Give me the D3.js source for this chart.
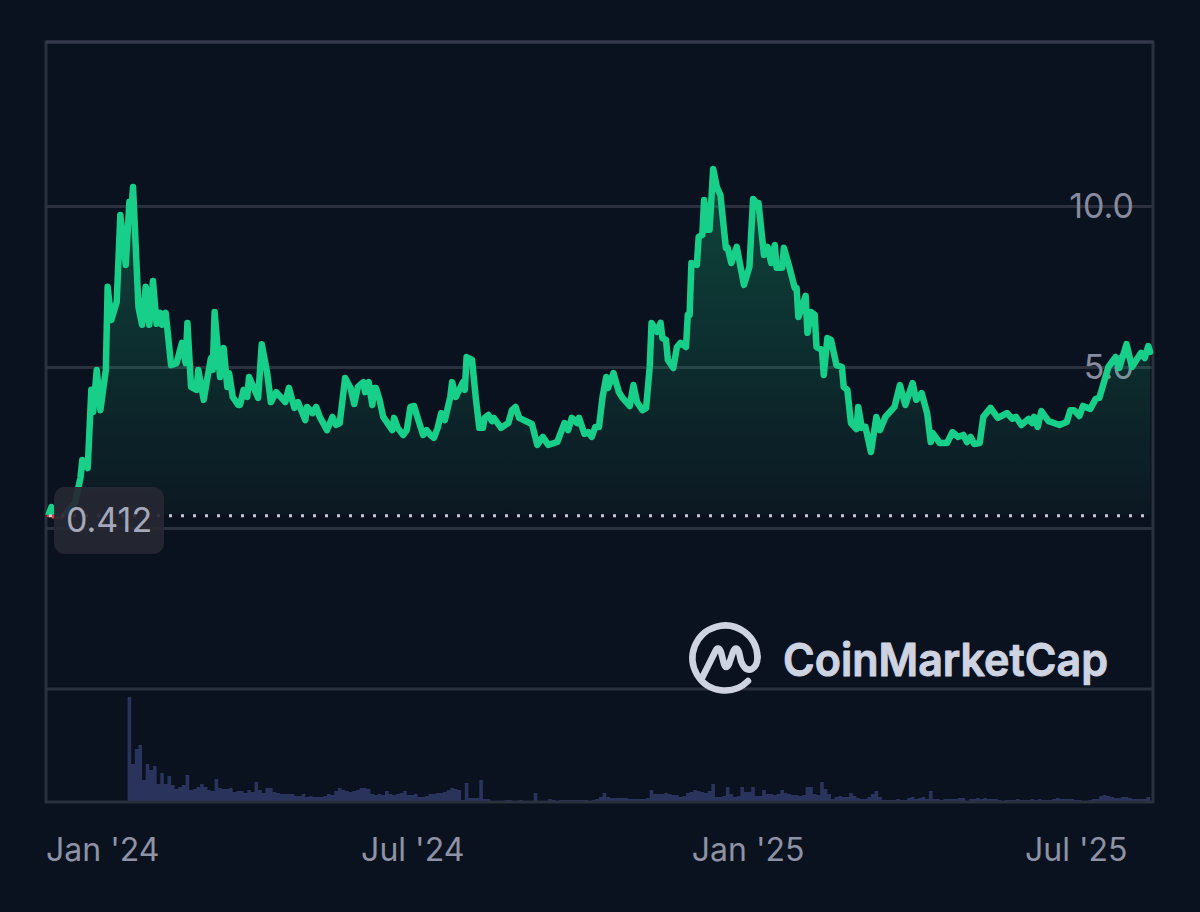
<!DOCTYPE html>
<html>
<head>
<meta charset="utf-8">
<script src="https://cdn.jsdelivr.net/npm/d3@7/dist/d3.min.js"></script>
<style>
  html, body { margin: 0; padding: 0; background: #0b121f; }
  svg { display: block; font-family: Inter, "Noto Sans", sans-serif; }
  .domain { display: none; }
</style>
</head>
<body>
<div id="chart"></div>
<script>
// days since the start of the chart
const days = [1,3,4,9,16,19,20,23,25,26,28,30,33,34,36,39,41,44,46,47,48,51,53,55,57,59,61,63,64,66,67,69,72,75,77,78,80,83,84,87,89,91,92,93,96,98,100,101,103,106,107,109,111,112,117,119,122,124,127,132,134,137,139,143,144,147,149,151,155,158,160,162,165,168,170,172,175,176,178,180,181,182,184,186,191,192,194,197,199,201,203,205,208,210,212,214,216,218,220,223,224,226,230,231,232,235,237,239,241,242,244,246,247,251,255,257,259,261,268,271,274,277,282,286,288,290,293,294,297,299,301,303,305,307,309,310,313,316,318,322,324,326,329,331,333,334,337,339,340,342,343,346,348,350,353,354,355,356,359,360,362,363,365,366,368,370,372,375,376,378,381,385,388,390,392,393,396,398,400,402,403,406,407,410,413,414,415,417,419,420,422,424,425,428,429,431,433,436,439,440,442,444,447,448,450,452,455,458,460,463,468,471,474,478,480,483,486,488,489,493,497,500,503,506,508,510,512,515,517,521,525,530,533,535,538,542,544,545,547,549,553,559,563,565,567,570,572,576,579,581,586,590,592,596,599,604,606,608,609];
const prices = [0.34,0.65,0.34,0.31,0.78,1.55,2.11,1.86,4.29,3.60,4.91,3.66,4.91,7.49,6.46,7.02,9.72,8.17,10.13,9.78,10.59,6.86,6.31,7.49,6.31,7.67,6.34,6.68,6.31,6.68,6.15,5.06,5.12,5.75,5.12,6.37,4.38,4.29,4.91,3.98,4.66,5.28,4.91,6.71,4.69,5.59,4.38,4.81,4.07,3.82,3.82,4.29,4.07,4.69,4.04,5.71,4.81,3.91,4.22,3.91,4.35,3.73,3.91,3.35,3.76,3.57,3.76,3.45,3.04,3.45,3.20,3.26,4.66,4.35,3.85,4.38,4.53,4.22,4.53,3.82,4.35,4.35,3.98,3.45,3.04,3.42,3.11,2.89,3.04,3.76,3.79,3.42,2.89,3.04,2.89,2.80,3.11,3.57,3.35,4.07,4.53,4.07,4.53,4.29,5.31,5.22,4.07,3.11,3.11,3.42,3.51,3.32,3.42,3.11,3.26,3.66,3.76,3.42,3.23,2.58,2.83,2.58,2.67,3.26,3.04,3.42,3.26,3.42,2.92,2.98,2.83,3.14,3.14,4.07,4.69,4.35,4.81,4.22,4.04,3.79,4.44,3.91,3.66,3.73,5.00,6.37,6.09,6.37,5.90,5.84,5.22,4.97,5.62,5.75,5.62,6.62,6.62,8.23,8.17,9.04,9.10,10.19,9.26,9.26,11.15,10.59,10.34,8.70,8.70,8.23,8.73,7.55,8.11,10.22,10.09,10.09,8.48,8.73,8.23,8.79,8.08,8.08,8.70,8.11,7.45,7.45,6.55,6.86,7.21,6.06,6.71,6.62,5.62,5.53,4.75,5.90,5.84,5.06,5.00,4.38,4.29,3.26,3.07,3.76,3.11,3.14,2.36,3.45,3.04,3.45,3.76,4.44,3.82,4.50,3.98,4.19,3.57,2.67,2.95,2.64,2.64,2.98,2.83,2.89,2.67,2.83,2.61,2.64,3.45,3.73,3.42,3.57,3.39,3.45,3.20,3.39,3.26,3.45,3.14,3.63,3.32,3.20,3.29,3.66,3.66,3.48,3.79,3.70,4.01,4.04,5.00,5.31,4.97,5.71,5.00,5.44,5.28,5.65,5.47];

// volume, one value per two days, starts on day 45
const volumeStartDay = 45;
const volumeStepDays = 2;
const volumes = [105,38,53,57,22,38,32,36,18,29,18,26,17,13,15,17,27,12,13,15,18,15,12,11,23,14,13,13,14,10,11,11,9,12,10,20,12,9,14,14,10,9,8,8,8,8,6,6,8,5,6,5,5,5,6,8,7,11,14,12,11,10,11,12,14,14,13,8,7,8,7,11,8,7,8,9,11,7,7,8,
  5,5,6,8,8,9,9,10,12,14,13,12,2,19,4,4,4,22,3,3,1,1,1,1,2,2,1,1,2,1,1,1,9,1,1,1,3,2,1,2,2,2,2,2,2,2,2,1,2,3,5,9,5,4,4,4,4,4,3,3,3,3,3,4,12,8,8,8,9,8,7,7,5,6,9,10,12,11,10,9,11,18,5,5,6,15,8,5,6,15,10,10,15,6,6,12,8,8,7,8,12,9,8,7,7,6,7,15,15,8,7,
  20,13,8,3,5,6,5,5,9,6,4,3,3,5,8,11,5,2,2,2,2,3,2,2,4,5,3,4,5,3,11,3,3,2,3,3,3,3,4,4,1,3,3,4,3,4,3,3,3,2,1,2,2,2,3,2,2,2,3,2,3,2,2,2,3,4,3,3,3,3,2,2,1,1,2,3,3,6,7,6,5,4,4,5,5,4,3,3,3,3,5,4];

const priceTicks = [5, 10];
const gridPrices = [0, 5, 10];
const basePrice = 0.412;
const dayTicks = [31, 202, 387, 568];
const dayLabels = ["Jan '24", "Jul '24", "Jan '25", "Jul '25"];

const width = 1200, height = 912;
const plotLeft = 46, plotRight = 1153, plotTop = 42, plotBottom = 802, volTop = 689;
const green = "#17cf88", red = "#ea3943", gridColor = "#2b303f", tickColor = "#878b9e";

const x = d3.scaleLinear().domain([0, 610.6]).range([plotLeft, plotRight]);
const y = d3.scaleLinear().domain([0, 10]).range([528, 206]);
const yVol = d3.scaleLinear().domain([0, 100]).range([plotBottom, plotBottom - 100]);

const svg = d3.select("#chart").append("svg")
    .attr("width", width)
    .attr("height", height);

const defs = svg.append("defs");
const grad = defs.append("linearGradient")
    .attr("id", "priceFill")
    .attr("gradientUnits", "userSpaceOnUse")
    .attr("x1", 0).attr("x2", 0)
    .attr("y1", y(11.2)).attr("y2", y(basePrice));
grad.append("stop").attr("offset", 0).attr("stop-color", green).attr("stop-opacity", 0.28);
grad.append("stop").attr("offset", 1).attr("stop-color", green).attr("stop-opacity", 0.03);

defs.append("clipPath").attr("id", "aboveBase").append("rect")
    .attr("x", 0).attr("y", 0).attr("width", width).attr("height", y(basePrice));
defs.append("clipPath").attr("id", "belowBase").append("rect")
    .attr("x", 0).attr("y", y(basePrice)).attr("width", width).attr("height", height - y(basePrice));

// price grid + labels
const yAxis = d3.axisRight(y).tickValues(gridPrices).tickSize(plotRight - plotLeft)
    .tickFormat(d => priceTicks.includes(d) ? d3.format(".1f")(d) : "");
const yG = svg.append("g")
    .attr("transform", `translate(${plotLeft},0)`)
    .call(yAxis);
yG.selectAll("line").attr("stroke", gridColor).attr("stroke-width", 3);
yG.selectAll("text")
    .attr("x", 1134 - plotLeft)
    .attr("dy", "0.35em")
    .attr("text-anchor", "end")
    .attr("fill", tickColor)
    .attr("font-size", 34)
    .attr("font-family", "Inter");

// volume
const volArea = d3.area()
    .x((d, i) => x(volumeStartDay + i * volumeStepDays))
    .y0(plotBottom)
    .y1(d => yVol(d))
    .curve(d3.curveStepAfter);
svg.append("path")
    .datum(volumes)
    .attr("d", volArea)
    .attr("fill", "#29335c");

// frame and pane divider
svg.append("rect")
    .attr("x", plotLeft).attr("y", plotTop)
    .attr("width", plotRight - plotLeft).attr("height", plotBottom - plotTop)
    .attr("fill", "none")
    .attr("stroke", gridColor)
    .attr("stroke-width", 3);
svg.append("line")
    .attr("x1", plotLeft).attr("x2", plotRight)
    .attr("y1", plotTop).attr("y2", plotTop)
    .attr("stroke", "#343a4b")
    .attr("stroke-width", 3);
svg.append("line")
    .attr("x1", plotLeft).attr("x2", plotRight)
    .attr("y1", volTop).attr("y2", volTop)
    .attr("stroke", gridColor)
    .attr("stroke-width", 3);

// watermark
const logo = svg.append("g").attr("fill", "none").attr("stroke", "#ced3e2")
    .attr("stroke-width", 6.5)
    .attr("stroke-linecap", "round").attr("stroke-linejoin", "round");
logo.append("path")
    .attr("d", "M748 681 A32.5 32.5 0 1 1 757.5 657");
logo.append("path")
    .attr("d", "M702 678 L715 652 Q718 645 721 652 L724 664 Q726 670 729 664 L733 652 Q736 645 739 652 L741 661 Q745 672 752 669 Q757.5 666 757.5 657");
svg.append("text")
    .attr("x", 783).attr("y", 676)
    .attr("font-family", "Inter")
    .attr("font-weight", 600)
    .attr("font-size", 45)
    .attr("textLength", 325)
    .attr("lengthAdjust", "spacingAndGlyphs")
    .attr("fill", "#ced3e2")
    .attr("stroke", "#ced3e2")
    .attr("stroke-width", 1)
    .attr("stroke-linejoin", "round")
    .text("CoinMarketCap");

// price area and line, green over the base price, red under it
const series = days.map((d, i) => ({ day: d, price: prices[i] }));
const area = d3.area()
    .x(d => x(d.day))
    .y0(y(basePrice))
    .y1(d => y(d.price));
const line = d3.line()
    .x(d => x(d.day))
    .y(d => y(d.price));

svg.append("path")
    .datum(series)
    .attr("d", area)
    .attr("fill", "url(#priceFill)")
    .attr("clip-path", "url(#aboveBase)");

svg.append("g").attr("clip-path", "url(#belowBase)").append("path")
    .datum(series)
    .attr("d", line)
    .attr("fill", "none")
    .attr("stroke", red)
    .attr("stroke-width", 3);
svg.append("g").attr("clip-path", "url(#aboveBase)").append("path")
    .datum(series)
    .attr("d", line)
    .attr("fill", "none")
    .attr("stroke", green)
    .attr("stroke-width", 6.5)
    .attr("stroke-linejoin", "round")
    .attr("stroke-linecap", "round");

// base price line and its tag
svg.append("line")
    .attr("x1", plotLeft + 3).attr("x2", plotRight)
    .attr("y1", y(basePrice) + 1).attr("y2", y(basePrice) + 1)
    .attr("stroke", "#c4c8d4")
    .attr("stroke-width", 3)
    .attr("stroke-dasharray", "3 9");
svg.append("rect")
    .attr("x", 54).attr("y", 487)
    .attr("width", 110).attr("height", 67)
    .attr("rx", 11)
    .attr("fill", "#262833")
    .attr("fill-opacity", 0.93);
svg.append("text")
    .attr("x", 109).attr("y", 520)
    .attr("dy", "0.36em")
    .attr("text-anchor", "middle")
    .attr("fill", "#a5a8b8")
    .attr("font-size", 34)
    .text(d3.format(".3f")(basePrice));

// date axis
const xAxis = d3.axisBottom(x).tickValues(dayTicks).tickSize(0)
    .tickFormat((d, i) => dayLabels[i]);
const xG = svg.append("g")
    .attr("transform", `translate(0,${plotBottom})`)
    .call(xAxis);
xG.selectAll("text")
    .attr("y", 48)
    .attr("dy", "0.35em")
    .attr("fill", "#8e92a5")
    .attr("font-size", 32)
    .attr("font-family", "Inter");
</script>
</body>
</html>
